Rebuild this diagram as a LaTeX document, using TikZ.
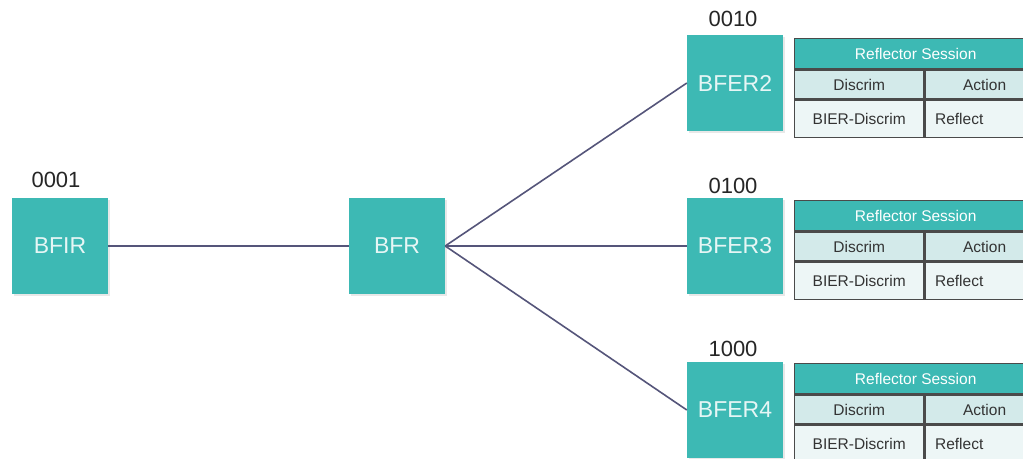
\documentclass[tikz,border=0pt]{standalone}
\usepackage{fontspec}
\setmainfont{Liberation Sans}
\usetikzlibrary{shadows}
\definecolor{tealbox}{HTML}{3DB9B4}
\definecolor{boxtext}{HTML}{E6F6F5}
\definecolor{linkc}{HTML}{55557A}
\definecolor{tabline}{HTML}{4A4A4A}
\definecolor{rowA}{HTML}{D3EAEA}
\definecolor{rowB}{HTML}{EDF6F6}
\definecolor{celltext}{HTML}{333333}
\tikzset{
  router/.style={fill=tealbox, minimum width=96pt, minimum height=96pt, inner sep=0pt,
    text=boxtext, font=\fontsize{23}{23}\selectfont,
    drop shadow={opacity=0.18, shadow xshift=1.5pt, shadow yshift=-2pt}},
  bits/.style={font=\fontsize{22}{22}\selectfont, text=black!85, inner sep=0pt},
  link/.style={draw=linkc, line width=1.6pt},
  cellbase/.style={draw=tabline, line width=1.4pt, anchor=north west, inner sep=0pt,
    font=\fontsize{15.5}{15.5}\selectfont},
  hdr/.style={cellbase, fill=tealbox, text=white, minimum width=242pt, minimum height=30pt},
  cellA/.style={cellbase, fill=rowA, text=celltext, minimum height=29pt},
  cellB/.style={cellbase, fill=rowB, text=celltext, minimum height=37pt},
}
\newcommand\rtable[2]{%
  \node[hdr] (#1h) at (794,#2) {Reflector Session};
  \node[cellA, minimum width=129pt] (#1d) at (#1h.south west) {Discrim};
  \node[cellA, minimum width=113pt, text width=113pt, align=center] (#1a) at (#1d.north east) {\hspace*{6pt}Action};
  \node[cellB, minimum width=129pt] (#1b) at (#1d.south west) {BIER-Discrim};
  \node[cellB, minimum width=113pt, text width=103pt, inner xsep=10pt, align=left] (#1r) at (#1b.north east) {Reflect};
}
\begin{document}
\begin{tikzpicture}[x=1pt, y=-1pt]
\clip (0,0) rectangle (1023,458);
\fill[white] (0,0) rectangle (1023,458);

\node[router] (bfir) at (60,246) {BFIR};
\node[router] (bfr) at (397,246) {BFR};
\node[router] (bfer2) at (735,83) {BFER2};
\node[router] (bfer3) at (735,246) {BFER3};
\node[router] (bfer4) at (735,410) {BFER4};

\node[bits] (l1) at (56,180) {0001};
\node[bits] (l2) at (733,19) {0010};
\node[bits] (l3) at (733,186) {0100};
\node[bits] (l4) at (733,349) {1000};

\draw[link] (bfir.east) -- (bfr.west);
\draw[link] (bfr.east) -- (bfer2.west);
\draw[link] (bfr.east) -- (bfer3.west);
\draw[link] (bfr.east) -- (bfer4.west);

\rtable{ta}{38}
\rtable{tb}{200}
\rtable{tc}{363}
\end{tikzpicture}
\end{document}
